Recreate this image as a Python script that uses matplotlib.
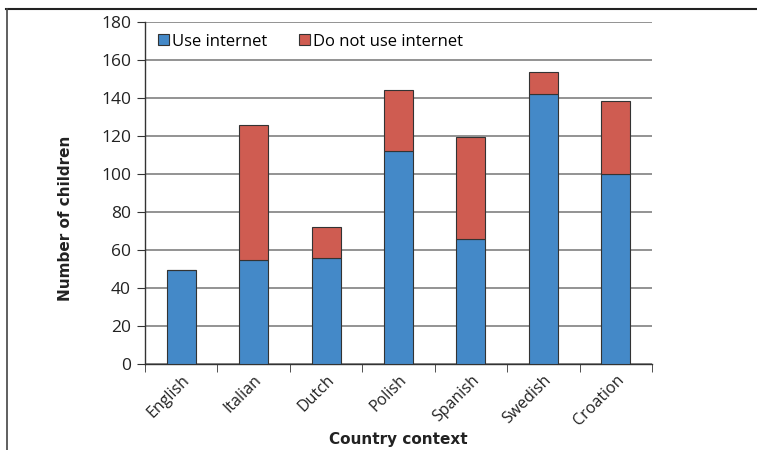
import matplotlib
matplotlib.use("Agg")
import matplotlib.pyplot as plt
from matplotlib.lines import Line2D
from matplotlib.patches import Patch
import numpy as np

categories = ["English", "Italian", "Dutch", "Polish", "Spanish", "Swedish", "Croation"]
use_internet = [49.5, 55, 56, 112, 66, 142, 100]
not_use_internet = [0, 71, 16, 32, 53.5, 11.5, 38.5]
yticks = [0, 20, 40, 60, 80, 100, 120, 140, 160, 180]

blue = "#4489C8"
red = "#CF5C51"
edge = "#333333"

fig = plt.figure(figsize=(7.57, 4.5), dpi=100)
ax = fig.add_axes([145/757, 1 - 364/450, (652-145)/757, (364-22)/450])

x = np.arange(len(categories))
ax.bar(x, use_internet, width=0.4, color=blue, edgecolor=edge, linewidth=0.8, zorder=3,
       label="Use internet")
ax.bar(x, not_use_internet, width=0.4, bottom=use_internet, color=red, edgecolor=edge,
       linewidth=0.8, zorder=3, label="Do not use internet")

ax.set_xlim(-0.5, len(categories) - 0.5)
ax.set_ylim(0, 180)
ax.set_yticks(yticks)
ax.yaxis.grid(True, color="#8a8a8a", linewidth=1.3, zorder=0)
ax.set_axisbelow(True)
for s in ["top", "right"]:
    ax.spines[s].set_visible(False)
for s in ["left", "bottom"]:
    ax.spines[s].set_color("#333333")
    ax.spines[s].set_linewidth(1.0)

ax.set_xticks(x)
ax.set_xticklabels(categories, rotation=45, ha="right", rotation_mode="anchor",
                   fontsize=11.5, family="Open Sans", color="#222222")
ax.tick_params(axis="x", length=0, pad=6)
ax.set_xticks(np.arange(-0.5, len(categories)), minor=True)
ax.tick_params(axis="x", which="minor", length=6, color="#333333")
ax.tick_params(axis="y", length=6, color="#333333", labelsize=12.5, labelcolor="#222222", pad=4)
for lab in ax.get_yticklabels():
    lab.set_family("Open Sans")

ax.set_xlabel("Country context", fontsize=11, fontweight="bold", family="DejaVu Sans",
              color="#222222", labelpad=2)
ax.set_ylabel("Number of children", fontsize=11, fontweight="bold", family="DejaVu Sans",
              color="#222222")
ax.yaxis.set_label_coords(-0.142, 0.427)

handles = [Patch(facecolor=blue, edgecolor=edge, linewidth=0.8),
           Patch(facecolor=red, edgecolor=edge, linewidth=0.8)]
ax.legend(handles, ["Use internet", "Do not use internet"], loc="upper left",
          bbox_to_anchor=(0.002, 1.0), ncol=2, frameon=False,
          prop={"family": "Open Sans", "size": 12}, handlelength=0.65, handleheight=0.65,
          handletextpad=0.2, columnspacing=1.9, borderaxespad=0.3)

fig.add_artist(Line2D([6/757, 1], [1 - 9/450, 1 - 9/450], color="#222222", linewidth=1.5,
                      transform=fig.transFigure))
fig.add_artist(Line2D([7/757, 7/757], [0, 1 - 9/450], color="#444444", linewidth=1.2,
                      transform=fig.transFigure))

fig.savefig("out.png", dpi=100)
